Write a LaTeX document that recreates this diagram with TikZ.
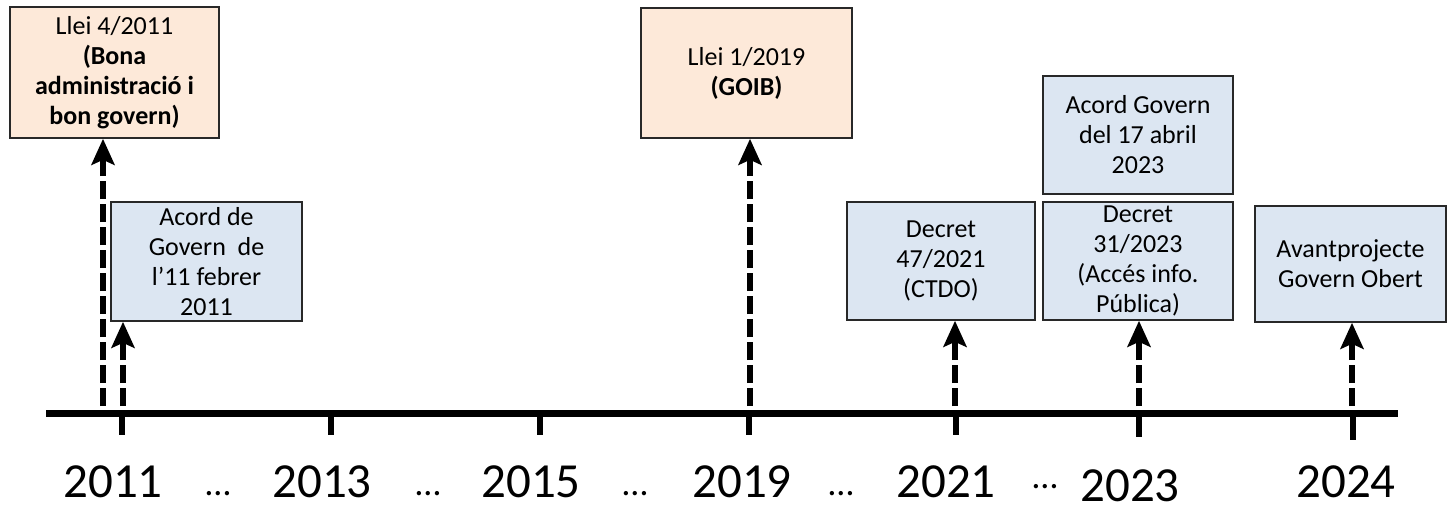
\documentclass[tikz,border=0pt]{standalone}
\usepackage{fontspec}
\setmainfont{Carlito}
\usetikzlibrary{arrows.meta}
\definecolor{peach}{RGB}{253,233,217}
\definecolor{paleblue}{RGB}{220,230,242}
\definecolor{edgegray}{RGB}{40,40,40}
\begin{document}
\begin{tikzpicture}[x=1pt,y=-1pt,
  evbox/.style={draw=edgegray, line width=1.6pt, inner sep=0pt, align=center,
    font=\fontsize{26}{30}\selectfont},
  lawbox/.style={evbox, fill=peach},
  actbox/.style={evbox, fill=paleblue},
  dasharrow/.style={line width=5.5pt, dash pattern=on 18pt off 5pt,
    -{Stealth[length=26pt,width=23pt,inset=5pt]}},
  axisline/.style={line width=7pt},
  ticmark/.style={line width=6pt},
  yearlbl/.style={anchor=base, inner sep=0pt, font=\fontsize{49}{58}\selectfont},
  dotlbl/.style={anchor=base, inner sep=0pt, font=\fontsize{36}{40}\selectfont}]
\useasboundingbox (0,0) rectangle (1452,504);

% boxes
\node[lawbox, minimum width=209pt, minimum height=131pt] (b1) at (114.5,72.5)
  {Llei 4/2011\\\textbf{(Bona}\\\textbf{administració i}\\\textbf{bon govern)}};
\node[actbox, minimum width=191pt, minimum height=119pt] (b2) at (206.5,261.5)
  {Acord de\\Govern\ \ de\\l’11 febrer\\2011};
\node[lawbox, minimum width=211pt, minimum height=130pt] (b3) at (746.5,73)
  {Llei 1/2019\\\textbf{(GOIB)}};
\node[actbox, minimum width=188pt, minimum height=118pt] (b4) at (941,261)
  {Decret\\47/2021\\(CTDO)};
\node[actbox, minimum width=190pt, minimum height=118pt] (b5) at (1138,261)
  {Decret\\31/2023\\(Accés info.\\Pública)};
\node[actbox, minimum width=190pt, minimum height=118pt] (b6) at (1138,135)
  {Acord Govern\\del 17 abril\\2023};
\node[actbox, minimum width=191pt, minimum height=116pt] (b7) at (1350.5,264)
  {Avantprojecte\\Govern Obert};

% timeline
\coordinate (tl0) at (46,413);
\coordinate (tl1) at (1398,413);
\draw[axisline] (tl0) -- (tl1);

\coordinate (t1) at (122,413);
\coordinate (t2) at (331,413);
\coordinate (t3) at (540,413);
\coordinate (t4) at (749,413);
\coordinate (t5) at (956,413);
\coordinate (t6) at (1139,413);
\coordinate (t7) at (1353,413);
\foreach \t in {t1,t2,t3,t4,t5} \draw[ticmark] (\t) -- ++(0,22);
\draw[ticmark] (t6) -- ++(0,24);
\draw[ticmark] (t7) -- ++(0,27);

% arrow feet
\coordinate (f1) at (103,406);
\coordinate (f2) at (123,406);
\coordinate (f3) at (750,406);
\coordinate (f4) at (955,406);
\coordinate (f5) at (1139,406);
\coordinate (f6) at (1352,406);
\draw[dasharrow] (f1) -- (b1.south -| f1);
\draw[dasharrow] (f2) -- (b2.south -| f2);
\draw[dasharrow] (f3) -- (b3.south -| f3);
\draw[dasharrow] (f4) -- (b4.south -| f4);
\draw[dasharrow] (f5) -- (b5.south -| f5);
\draw[dasharrow] (f6) -- (b7.south -| f6);

% year labels
\node[yearlbl] (y1) at (113,497) {2011};
\node[yearlbl] (y2) at (322,497) {2013};
\node[yearlbl] (y3) at (531,497) {2015};
\node[yearlbl] (y4) at (742,497) {2019};
\node[yearlbl] (y5) at (946,497) {2021};
\node[yearlbl] (y6) at (1130,501) {2023};
\node[yearlbl] (y7) at (1346,497) {2024};

\node[dotlbl] (d1) at (218,495) {…};
\node[dotlbl] (d2) at (428,495) {…};
\node[dotlbl] (d3) at (635,495) {…};
\node[dotlbl] (d4) at (841,495) {…};
\node[dotlbl] (d5) at (1045,488) {…};
\end{tikzpicture}
\end{document}
